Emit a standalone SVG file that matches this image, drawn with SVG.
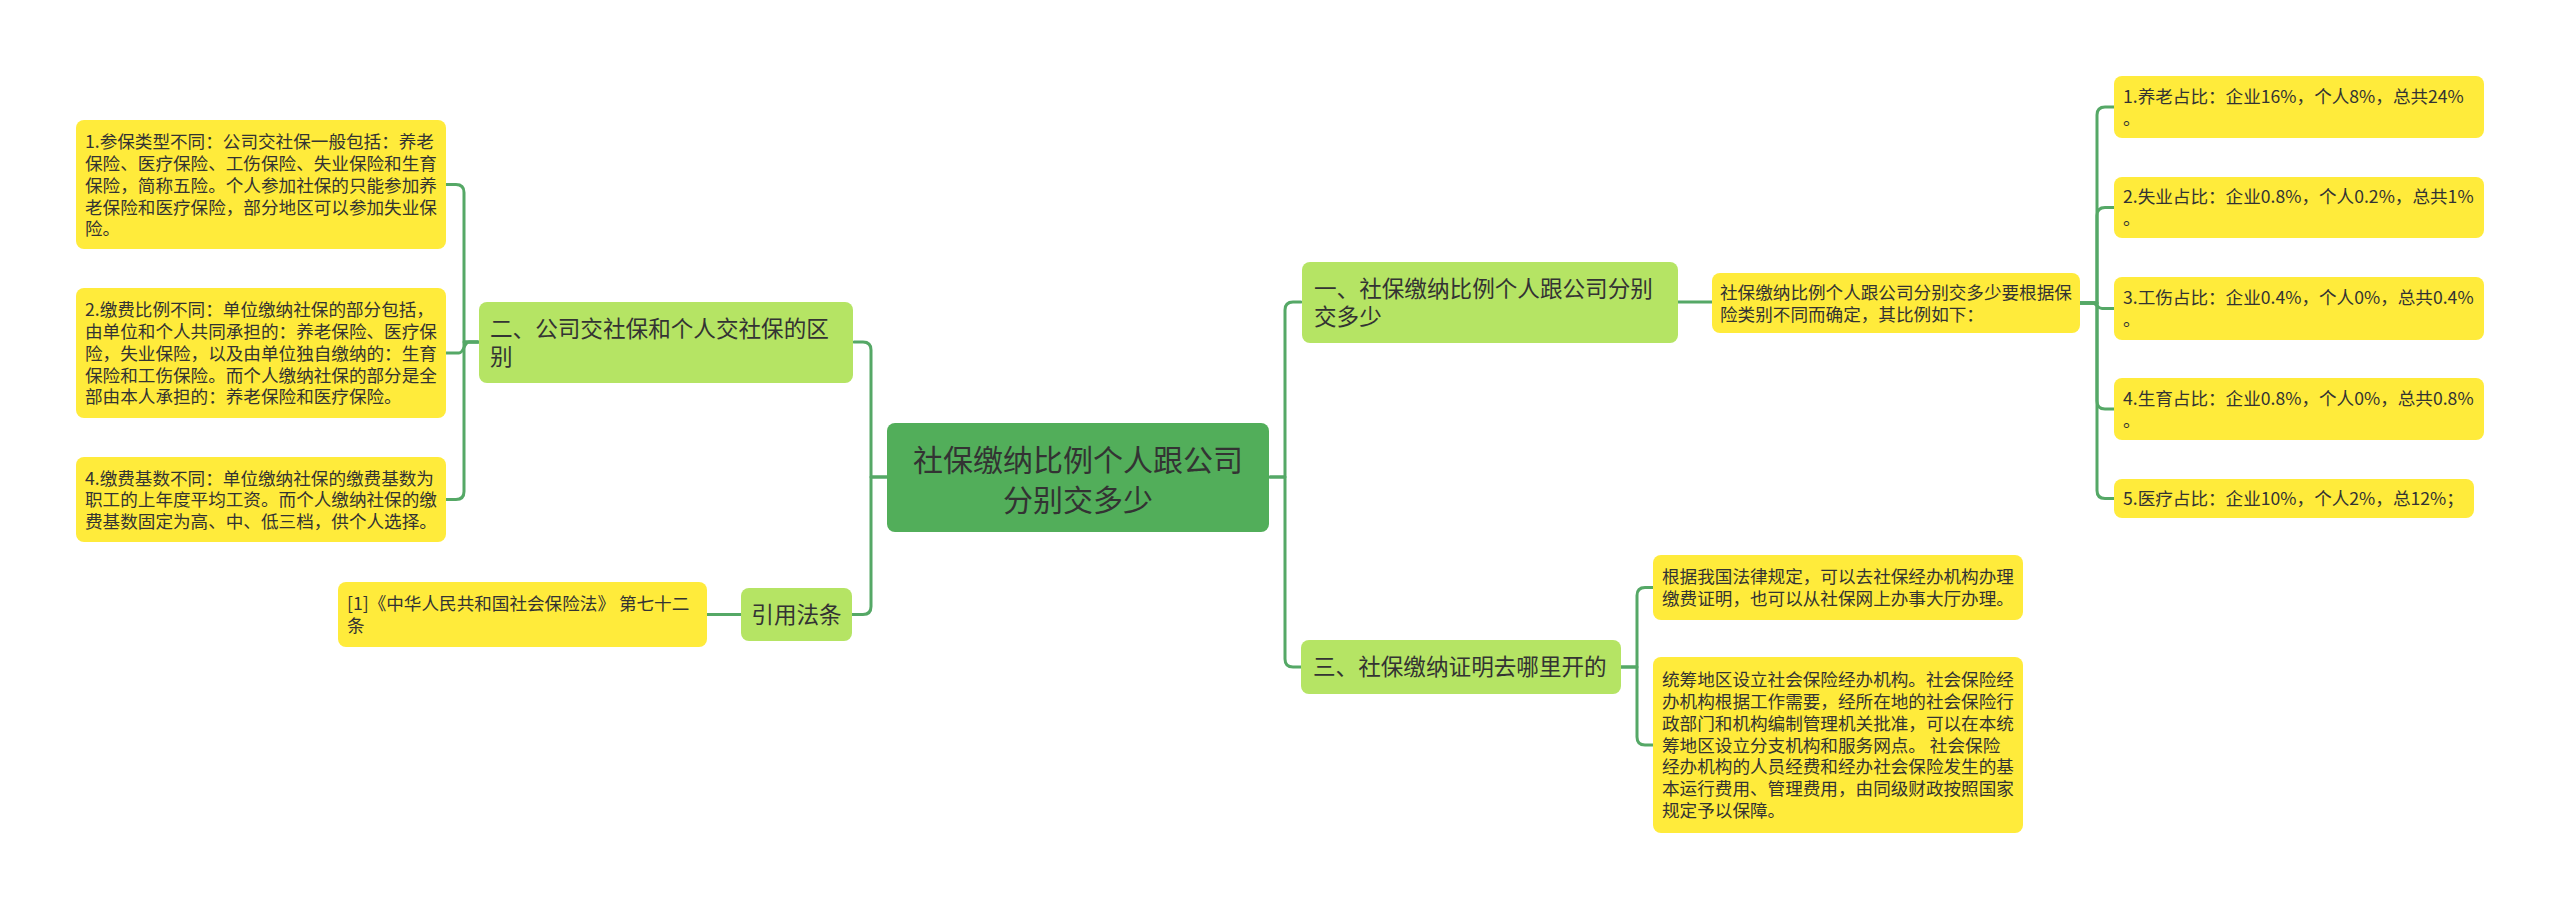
<svg xmlns="http://www.w3.org/2000/svg" width="2560" height="909" viewBox="0 0 2560 909">
<style>
.bg{fill:#ffffff}
.root{fill:#52ae5a}
.branch{fill:#b5e464}
.leaf{fill:#ffeb3b}
.conn path{fill:none;stroke:#55a866;stroke-width:3;stroke-linecap:round;stroke-linejoin:round}
text{font-family:"Noto Sans CJK SC","Noto Sans",sans-serif;fill:#333333}
.t-root{font-size:30px}
.t-branch{font-size:22.6px}
.t-leaf{font-size:17.6px}
</style>
<rect class="bg" x="0" y="0" width="2560" height="909"/>
<g id="connectors" class="conn">
  <path d="M887,477 H871 V350 Q871,342 863,342 H854"/>
  <path d="M887,477 H871 V606.5 Q871,614.5 863,614.5 H852"/>
  <path d="M1270,477 H1285 V310 Q1285,302 1293,302 H1301"/>
  <path d="M1270,477 H1285 V659 Q1285,667 1293,667 H1301"/>
  <path d="M1678,302 H1712"/>
  <path d="M2080,303 H2097 V115 Q2097,107 2105,107 H2114"/>
  <path d="M2080,303 H2097 V215.5 Q2097,207.5 2105,207.5 H2114"/>
  <path d="M2080,303 H2092 C2097,303 2097,308.5 2102,308.5 H2114"/>
  <path d="M2080,303 H2097 V401 Q2097,409 2105,409 H2114"/>
  <path d="M2080,303 H2097 V490.5 Q2097,498.5 2105,498.5 H2114"/>
  <path d="M1621,667 H1637 V595.5 Q1637,587.5 1645,587.5 H1653"/>
  <path d="M1621,667 H1637 V737 Q1637,745 1645,745 H1653"/>
  <path d="M478,342 H464 V192.5 Q464,184.5 456,184.5 H446"/>
  <path d="M478,342 H469 C464,342 464,353 459,353 H446"/>
  <path d="M478,342 H464 V491.5 Q464,499.5 456,499.5 H446"/>
  <path d="M741,614.5 H707"/>
</g>
<g id="root">
  <rect class="root" x="887" y="423" width="382" height="109" rx="8"/>
  <text class="t-root" x="1078" y="471" text-anchor="middle">社保缴纳比例个人跟公司</text>
  <text class="t-root" x="1078" y="511" text-anchor="middle">分别交多少</text>
</g>
<g id="b2">
  <rect class="branch" x="479" y="302" width="374" height="81" rx="8"/>
  <text class="t-branch" x="490" y="337">二、公司交社保和个人交社保的区</text>
  <text class="t-branch" x="490" y="365">别</text>
</g>
<g id="b-law">
  <rect class="branch" x="741" y="588" width="111" height="53" rx="8"/>
  <text class="t-branch" x="796.5" y="623" text-anchor="middle">引用法条</text>
</g>
<g id="b1">
  <rect class="branch" x="1302" y="262" width="376" height="81" rx="8"/>
  <text class="t-branch" x="1314" y="297">一、社保缴纳比例个人跟公司分别</text>
  <text class="t-branch" x="1314" y="325">交多少</text>
</g>
<g id="b3">
  <rect class="branch" x="1301" y="640" width="320" height="54" rx="8"/>
  <text class="t-branch" x="1313" y="675">三、社保缴纳证明去哪里开的</text>
</g>
<g id="l-left1">
  <rect class="leaf" x="76" y="120" width="370" height="129" rx="8"/>
  <text class="t-leaf" x="85" y="148">1.参保类型不同：公司交社保一般包括：养老</text>
  <text class="t-leaf" x="85" y="170">保险、医疗保险、工伤保险、失业保险和生育</text>
  <text class="t-leaf" x="85" y="192">保险，简称五险。个人参加社保的只能参加养</text>
  <text class="t-leaf" x="85" y="213.5">老保险和医疗保险，部分地区可以参加失业保</text>
  <text class="t-leaf" x="85" y="235">险。</text>
</g>
<g id="l-left2">
  <rect class="leaf" x="76" y="288" width="370" height="130" rx="8"/>
  <text class="t-leaf" x="85" y="316">2.缴费比例不同：单位缴纳社保的部分包括，</text>
  <text class="t-leaf" x="85" y="338">由单位和个人共同承担的：养老保险、医疗保</text>
  <text class="t-leaf" x="85" y="359.5">险，失业保险，以及由单位独自缴纳的：生育</text>
  <text class="t-leaf" x="85" y="381.5">保险和工伤保险。而个人缴纳社保的部分是全</text>
  <text class="t-leaf" x="85" y="403">部由本人承担的：养老保险和医疗保险。</text>
</g>
<g id="l-left3">
  <rect class="leaf" x="76" y="457" width="370" height="85" rx="8"/>
  <text class="t-leaf" x="85" y="484.5">4.缴费基数不同：单位缴纳社保的缴费基数为</text>
  <text class="t-leaf" x="85" y="506">职工的上年度平均工资。而个人缴纳社保的缴</text>
  <text class="t-leaf" x="85" y="528">费基数固定为高、中、低三档，供个人选择。</text>
</g>
<g id="l-law">
  <rect class="leaf" x="338" y="582" width="369" height="65" rx="8"/>
  <text class="t-leaf" x="347" y="610">[1]《中华人民共和国社会保险法》 第七十二</text>
  <text class="t-leaf" x="347" y="632">条</text>
</g>
<g id="l-mid">
  <rect class="leaf" x="1712" y="273" width="368" height="60" rx="8"/>
  <text class="t-leaf" x="1720" y="298.7">社保缴纳比例个人跟公司分别交多少要根据保</text>
  <text class="t-leaf" x="1720" y="320.5">险类别不同而确定，其比例如下：</text>
</g>
<g id="l-r1">
  <rect class="leaf" x="2114" y="76" width="370" height="62" rx="8"/>
  <text class="t-leaf" x="2123" y="102.7">1.养老占比：企业16%，个人8%，总共24%</text>
  <text class="t-leaf" x="2123" y="124.5">。</text>
</g>
<g id="l-r2">
  <rect class="leaf" x="2114" y="177" width="370" height="61" rx="8"/>
  <text class="t-leaf" x="2123" y="203.2">2.失业占比：企业0.8%，个人0.2%，总共1%</text>
  <text class="t-leaf" x="2123" y="225">。</text>
</g>
<g id="l-r3">
  <rect class="leaf" x="2114" y="277" width="370" height="63" rx="8"/>
  <text class="t-leaf" x="2123" y="304.2">3.工伤占比：企业0.4%，个人0%，总共0.4%</text>
  <text class="t-leaf" x="2123" y="326">。</text>
</g>
<g id="l-r4">
  <rect class="leaf" x="2114" y="378" width="370" height="62" rx="8"/>
  <text class="t-leaf" x="2123" y="404.7">4.生育占比：企业0.8%，个人0%，总共0.8%</text>
  <text class="t-leaf" x="2123" y="426.5">。</text>
</g>
<g id="l-r5">
  <rect class="leaf" x="2114" y="479" width="360" height="39" rx="8"/>
  <text class="t-leaf" x="2123" y="505">5.医疗占比：企业10%，个人2%，总12%；</text>
</g>
<g id="l-a">
  <rect class="leaf" x="1653" y="555" width="370" height="65" rx="8"/>
  <text class="t-leaf" x="1662" y="583.2">根据我国法律规定，可以去社保经办机构办理</text>
  <text class="t-leaf" x="1662" y="605">缴费证明，也可以从社保网上办事大厅办理。</text>
</g>
<g id="l-b">
  <rect class="leaf" x="1653" y="657" width="370" height="176" rx="8"/>
  <text class="t-leaf" x="1662" y="686.2">统筹地区设立社会保险经办机构。社会保险经</text>
  <text class="t-leaf" x="1662" y="708">办机构根据工作需要，经所在地的社会保险行</text>
  <text class="t-leaf" x="1662" y="729.8">政部门和机构编制管理机关批准，可以在本统</text>
  <text class="t-leaf" x="1662" y="751.6">筹地区设立分支机构和服务网点。 社会保险</text>
  <text class="t-leaf" x="1662" y="773.4">经办机构的人员经费和经办社会保险发生的基</text>
  <text class="t-leaf" x="1662" y="795.2">本运行费用、管理费用，由同级财政按照国家</text>
  <text class="t-leaf" x="1662" y="817">规定予以保障。</text>
</g>
</svg>
